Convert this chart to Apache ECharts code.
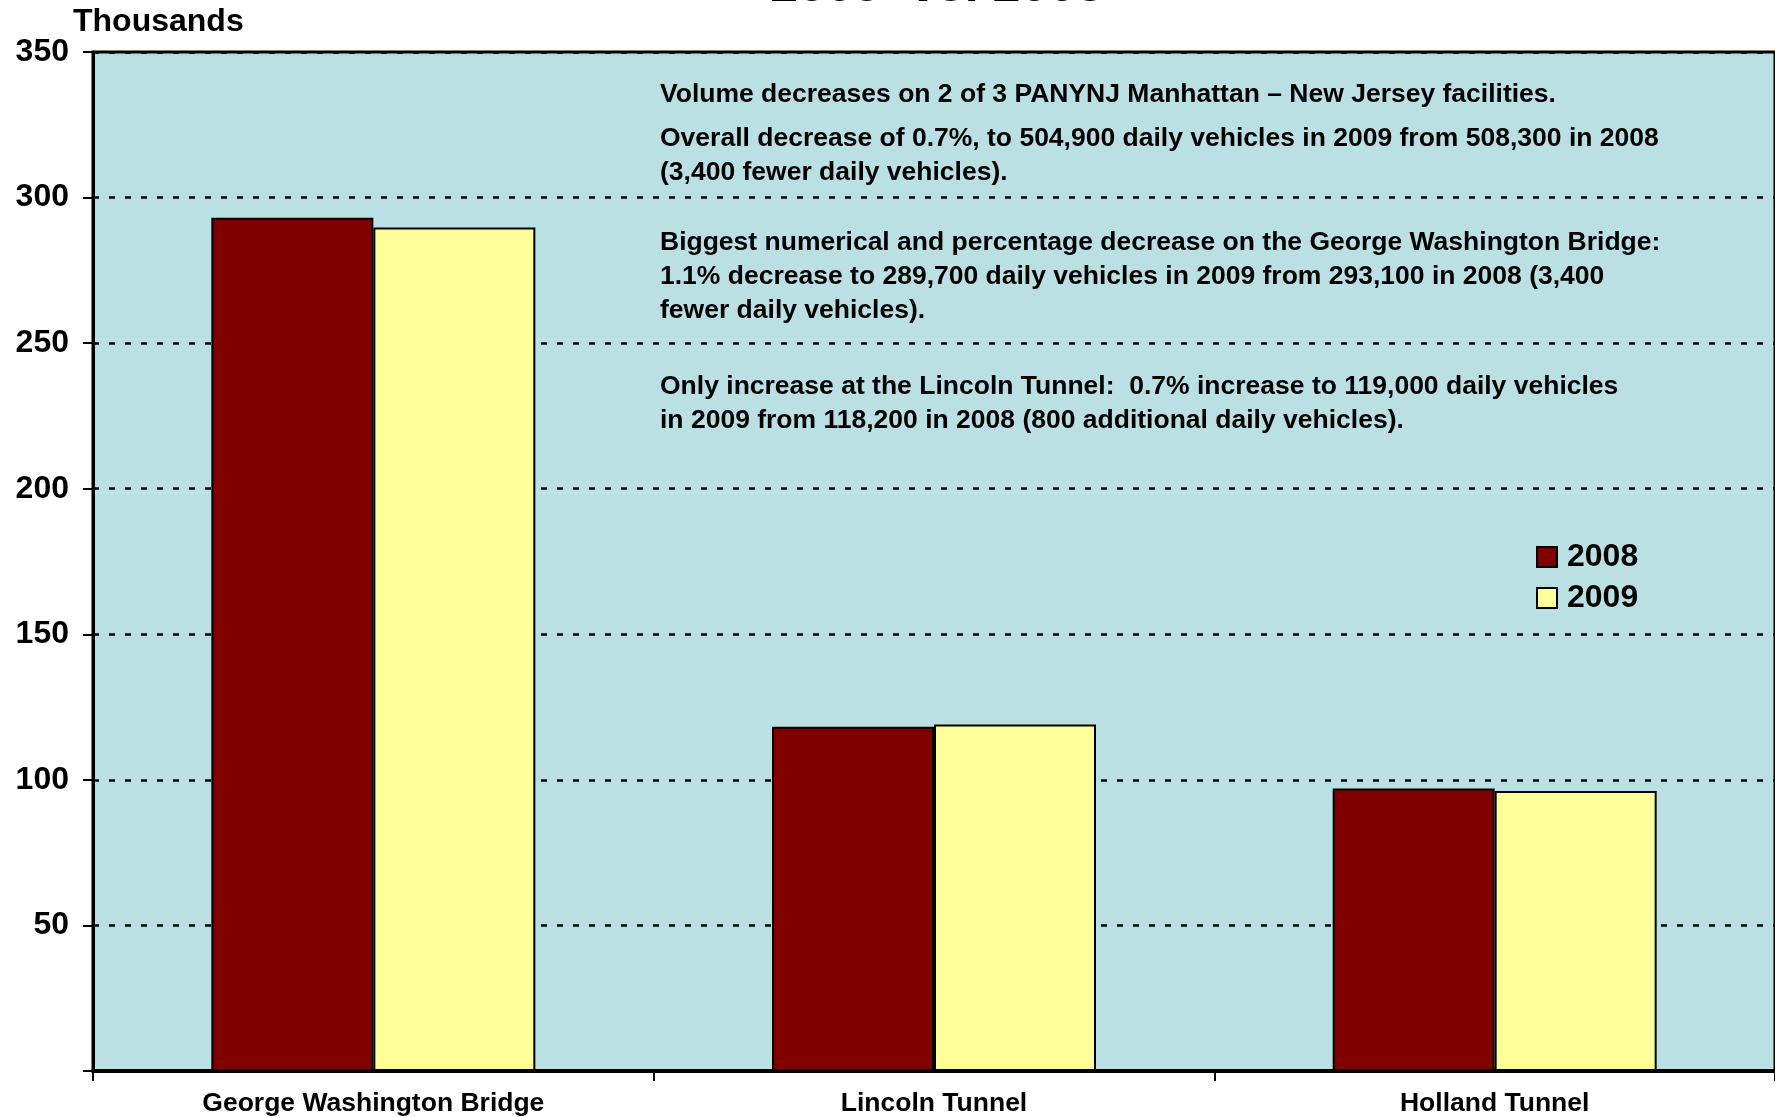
<!DOCTYPE html>
<html>
<head>
<meta charset="utf-8">
<script src="https://cdn.jsdelivr.net/npm/echarts@6/dist/echarts.min.js"></script>
<style>
  html, body { margin: 0; padding: 0; background: #fff; }
  #chart { width: 1775px; height: 1117px; }
</style>
</head>
<body>
<div id="chart"></div>
<script>
// data
var facilities = ['George Washington Bridge', 'Lincoln Tunnel', 'Holland Tunnel'];
var vol2008 = [293.1, 118.2, 97.0];
var vol2009 = [289.7, 119.0, 96.2];
var yTicks = [0, 50, 100, 150, 200, 250, 300, 350];

var notes = [
    ['Volume decreases on 2 of 3 PANYNJ Manhattan \u2013 New Jersey facilities.'],
    ['Overall decrease of 0.7%, to 504,900 daily vehicles in 2009 from 508,300 in 2008',
     '(3,400 fewer daily vehicles).'],
    ['Biggest numerical and percentage decrease on the George Washington Bridge:',
     '1.1% decrease to 289,700 daily vehicles in 2009 from 293,100 in 2008 (3,400',
     'fewer daily vehicles).'],
    ['Only increase at the Lincoln Tunnel:  0.7% increase to 119,000 daily vehicles',
     'in 2009 from 118,200 in 2008 (800 additional daily vehicles).']
];
var noteTops = [95, 139, 243, 387];   // centre of first line of each paragraph

var font = 'Arial, "Liberation Sans", sans-serif';

var chart = echarts.init(document.getElementById('chart'));

var graphics = [
    {
        type: 'text', left: 73, top: 6,
        style: { text: 'Thousands', font: 'bold 32px ' + font, fill: '#000' }
    },
    {
        type: 'text', x: 937, y: -13,
        style: { text: '2009  vs. 2008', font: 'bold 50px ' + font, fill: '#000',
                 align: 'center', verticalAlign: 'middle' }
    }
];
notes.forEach(function (lines, i) {
    graphics.push({
        type: 'text', x: 660, y: noteTops[i] - 17,
        style: { text: lines.join('\n'), font: 'bold 26.5px ' + font, fill: '#000',
                 lineHeight: 34, verticalAlign: 'top' }
    });
});

var option = {
    backgroundColor: '#fff',
    animation: false,
    grid: {
        left: 93, right: 0, top: 52, bottom: 44,
        show: true,
        backgroundColor: '#BAE0E3',
        borderColor: '#000',
        borderWidth: 3
    },
    legend: {
        data: ['2008', '2009'],
        orient: 'vertical',
        left: 1531, top: 536,
        itemWidth: 20, itemHeight: 20,
        itemGap: 9,
        icon: 'rect',
        textStyle: { fontFamily: font, fontWeight: 'bold', fontSize: 32, color: '#000', padding: [0, 0, 0, 5] }
    },
    xAxis: {
        type: 'category',
        data: facilities,
        axisLine: { lineStyle: { color: '#000', width: 4 } },
        axisTick: { show: true, length: 10, lineStyle: { color: '#000', width: 2 } },
        axisLabel: { fontFamily: font, fontWeight: 'bold', fontSize: 26.5, color: '#000', margin: 19 }
    },
    yAxis: {
        type: 'value',
        min: yTicks[0], max: yTicks[yTicks.length - 1], interval: 50,
        axisLine: { show: true, lineStyle: { color: '#000', width: 3 } },
        axisTick: { show: true, length: 10, lineStyle: { color: '#000', width: 2 } },
        axisLabel: {
            fontFamily: font, fontWeight: 'bold', fontSize: 32, color: '#000', margin: 24,
            formatter: function (v) { return v === 0 ? '' : String(v); }
        },
        splitLine: { show: true, lineStyle: { color: '#000', width: 2.5, type: [6, 10] } }
    },
    series: [
        {
            name: '2008', type: 'bar', data: vol2008,
            barWidth: 162, barGap: '0%',
            itemStyle: { color: '#800000', borderColor: '#000', borderWidth: 2 }
        },
        {
            name: '2009', type: 'bar', data: vol2009,
            barWidth: 162, barGap: '0%',
            itemStyle: { color: '#FFFF99', borderColor: '#000', borderWidth: 2 }
        }
    ],
    graphic: graphics
};
chart.setOption(option);
</script>
</body>
</html>
